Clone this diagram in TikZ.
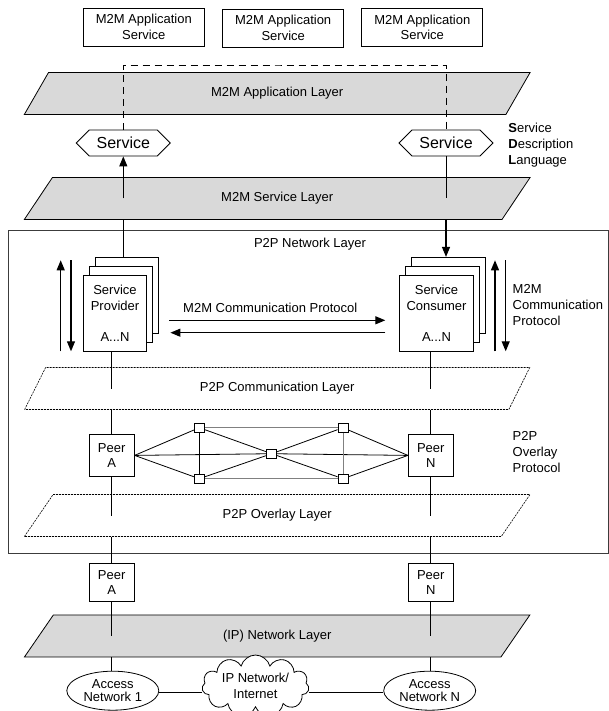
\documentclass[tikz,border=0pt]{standalone}
\usepackage{fontspec}
\setmainfont{Liberation Sans}
\usetikzlibrary{positioning,arrows.meta,shapes.geometric,shapes.symbols,shadows,calc}
\definecolor{layergray}{RGB}{217,217,217}
\definecolor{linegray}{RGB}{60,60,60}

\begin{document}
\begin{tikzpicture}[x=1pt,y=-1pt,
  font=\fontsize{13}{15.5}\selectfont,
  line width=0.8pt,
  every node/.style={inner sep=0pt},
  appbox/.style={draw, minimum width=121, minimum height=38, align=center},
  layer/.style={draw, trapezium, trapezium left angle=60, trapezium right angle=120,
    trapezium stretches=true, minimum width=506, minimum height=42},
  greylayer/.style={layer, fill=layergray},
  dashlayer/.style={layer, dash pattern=on 2pt off 1pt, line width=0.6pt},
  svchex/.style={draw, signal, signal to=west and east, fill=white,
    minimum width=94, minimum height=26, font=\fontsize{16}{18}\selectfont},
  stackbox/.style={draw, fill=white, minimum height=76, align=center,
    double copy shadow={shadow xshift=6pt, shadow yshift=9pt, draw, fill=white}},
  peerbox/.style={draw, fill=white, minimum width=45, minimum height=40, align=center},
  meshnode/.style={draw, fill=white, minimum width=10, minimum height=9},
  accessnet/.style={draw, ellipse, fill=white, minimum width=92, minimum height=39,
    align=center, font=\fontsize{13}{13}\selectfont},
  netcloud/.style={draw, cloud, cloud puffs=11, aspect=2.2, fill=white,
    minimum width=107, minimum height=52, align=center},
  sidetext/.style={anchor=west, align=left, font=\fontsize{13}{16}\selectfont},
  arr/.style={-{Triangle[length=10pt,width=8pt]}, line width=1.2pt},
  dashline/.style={dash pattern=on 7pt off 5pt}
]
\useasboundingbox (0,0) rectangle (609,711);

% application services
\node[appbox] (as1) at (143.8,27) {M2M Application\\Service};
\node[appbox] (as2) at (283.2,28) {M2M Application\\Service};
\node[appbox] (as3) at (422.3,27.5) {M2M Application\\Service};

% layers
\node[greylayer] (app) at (277.2,93.5) {M2M Application Layer};
\node[greylayer] (srv) at (277.2,198.5) {M2M Service Layer};

\node[svchex] (svcL) at (123.3,143) {Service};
\node[svchex] (svcR) at (446,143) {Service};
\node[sidetext] (sdl) at (508,145) {\textbf{S}ervice\\\textbf{D}escription\\\textbf{L}anguage};

\coordinate (dtop) at (280,65);
\draw[dashline] (svcL.north) |- (dtop) -| (svcR.north);
\draw[arr] (svcL |- srv.center) -- (svcL.south);
\draw (svcR.south) -- (svcR |- srv.center);

% P2P network layer
\node[draw, color=linegray, minimum width=600, minimum height=323] (p2pnet) at (308,391.5) {};
\node[anchor=base] (p2plabel) at (310,247.5) {P2P Network Layer};

\node[stackbox, minimum width=63.4] (prov) at (115,313.3) {Service\\Provider\\[16pt]A...N};
\node[stackbox, minimum width=73.6] (cons) at (436.5,313.3) {Service\\Consumer\\[16pt]A...N};
\coordinate (provtop) at ([yshift=18pt]prov.north);
\coordinate (constop) at ([yshift=18pt]cons.north);
\draw (svcL |- srv.south) -- (svcL |- provtop);
\draw[arr] (svcR |- srv.south) -- (svcR |- constop);

\node (m2mcp) at (270.3,307.7) {M2M Communication Protocol};
\draw[arr] ([shift={(22,7)}]prov.east) -- ([shift={(-14,7)}]cons.west);
\draw[arr] ([shift={(-14,19.4)}]cons.west) -- ([shift={(23.3,19.4)}]prov.east);

\coordinate (lu1) at (60.7,351.3);
\coordinate (lu2) at (60.7,260.3);
\coordinate (ld1) at (71,260.3);
\coordinate (ld2) at (71,351.3);
\coordinate (ru1) at (495,351.3);
\coordinate (ru2) at (495,260.3);
\coordinate (rd1) at (505.7,260.3);
\coordinate (rd2) at (505.7,351.3);
\draw[arr] (lu1) -- (lu2);
\draw[arr] (ld1) -- (ld2);
\draw[arr] (ru1) -- (ru2);
\draw[arr] (rd1) -- (rd2);
\node[sidetext] (m2mside) at (512.3,305) {M2M\\Communication\\Protocol};

\node[dashlayer] (comm) at (277.2,388.5) {P2P Communication Layer};
\node[dashlayer] (ovl) at (277.2,515.5) {P2P Overlay Layer};

\node[peerbox, minimum height=42] (pa) at (111.7,455.4) {Peer\\A};
\node[peerbox, minimum height=42] (pn) at (430.8,455.4) {Peer\\N};
\node[sidetext] (ovlside) at (512.3,452.5) {P2P\\Overlay\\Protocol};

\draw (pa |- prov.south) -- (pa |- comm.center);
\draw (pn |- cons.south) -- (pn |- comm.center);
\draw (pa.north) -- (pa |- comm.south);
\draw (pn.north) -- (pn |- comm.south);
\draw (pa.south) -- (pa |- ovl.center);
\draw (pn.south) -- (pn |- ovl.center);

% overlay mesh
\node[meshnode] (tl) at (199.3,427.7) {};
\node[meshnode] (bl) at (199.3,478.7) {};
\node[meshnode] (mc) at (271.7,453.7) {};
\node[meshnode] (tr) at (343,427.7) {};
\node[meshnode] (br) at (343,478.7) {};
\draw (pa.east) -- (tl);
\draw (pa.east) -- (bl);
\draw (pa.east) -- (mc);
\draw (mc) -- (pn.west);
\draw (tr) -- (pn.west);
\draw (br) -- (pn.west);
\draw (tl) -- (mc) -- (br);
\draw (bl) -- (mc) -- (tr);
\draw (tl) -- (bl);
\draw[gray] (tr) -- (br);
\draw[gray] (tl) -- (tr);
\draw[gray] (bl) -- (br);

% IP network
\node[peerbox, minimum height=38] (pa2) at (111.7,582.3) {Peer\\A};
\node[peerbox, minimum height=38] (pn2) at (430.8,582.3) {Peer\\N};
\node[greylayer] (ipl) at (277.2,635.9) {(IP) Network Layer};

\draw (pa2.north) -- (pa |- ovl.south);
\draw (pn2.north) -- (pn |- ovl.south);
\draw (pa2.south) -- (pa2 |- ipl.center);
\draw (pn2.south) -- (pn2 |- ipl.center);

\node[accessnet] (an1) at (112.8,690.7) {Access\\Network 1};
\node[accessnet] (ann) at (429.7,690.7) {Access\\Network N};
\node[netcloud] (inet) at (255.5,686) {IP Network/\\Internet};
\draw (an1.north -| pa2) -- (pa2 |- ipl.south);
\draw (ann.north -| pn2) -- (pn2 |- ipl.south);
\draw ([yshift=-1.7pt]an1.east) -- ([yshift=-1.7pt]an1.east -| inet.west);
\draw ([yshift=-1.7pt]ann.west) -- ([yshift=-1.7pt]ann.west -| inet.east);
\end{tikzpicture}
\end{document}
